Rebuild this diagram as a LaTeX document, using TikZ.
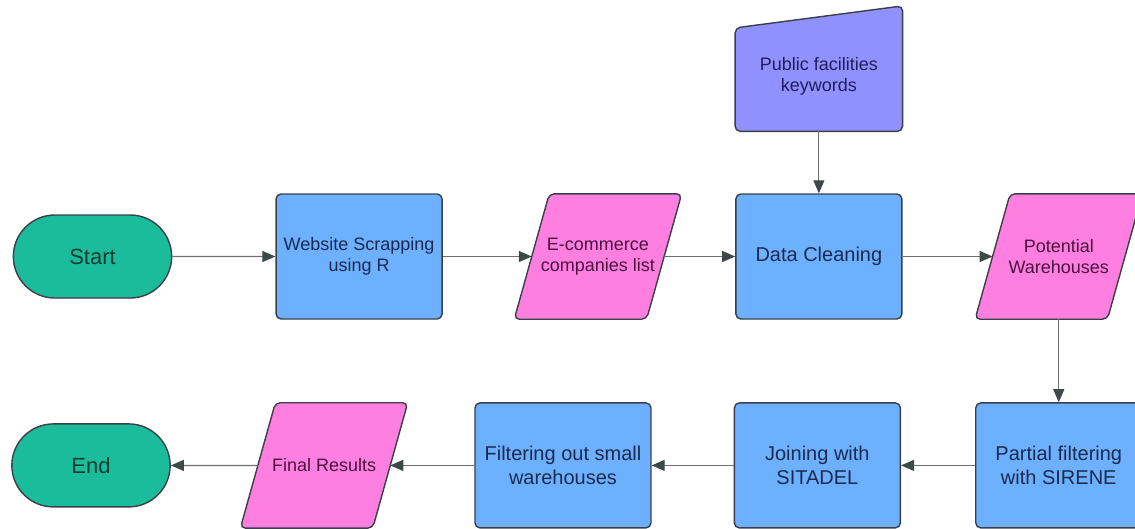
\documentclass[tikz,border=0pt]{standalone}
\usepackage{fontspec}
\setmainfont{Liberation Sans}
\usetikzlibrary{
    arrows.meta,
    positioning,
    shapes.misc,
    calc,
    backgrounds
}
\definecolor{boxblue}{HTML}{6CB0FF}
\definecolor{termteal}{HTML}{1BBC9B}
\definecolor{parapink}{HTML}{FF7FE0}
\definecolor{pubpurple}{HTML}{9190FF}
\definecolor{edgegray}{HTML}{3A3F48}
\definecolor{linegray}{HTML}{707070}
\definecolor{headgray}{HTML}{3E4848}
\definecolor{bluetext}{HTML}{1B2A4E}
\definecolor{pinktext}{HTML}{4A1040}
\definecolor{tealtext}{HTML}{0F3D33}
\definecolor{purpletext}{HTML}{1E1E5A}

\begin{document}
\begin{tikzpicture}[
    smallfont/.style={font=\fontsize{18pt}{21pt}\selectfont},
    bigfont/.style={font=\fontsize{20pt}{24pt}\selectfont},
    box/.style={rectangle, draw=edgegray, line width=1.4pt, rounded corners=5pt, fill=boxblue, text=bluetext, align=center, minimum height=125pt, minimum width=166pt, inner sep=2pt},
    term/.style={rounded rectangle, draw=edgegray, line width=1.4pt, fill=termteal, text=tealtext, minimum height=83pt, minimum width=165pt, font=\fontsize{22pt}{26pt}\selectfont},
    para/.style={rectangle, text=pinktext, align=center, minimum height=125pt, minimum width=132pt, inner sep=0pt, smallfont},
    paraline/.style={draw=edgegray, line width=1.4pt, rounded corners=5pt, fill=parapink},
    pub/.style={rectangle, text=purpletext, align=center, minimum height=110pt, minimum width=167pt, smallfont},
    arrow/.style={draw=linegray, line width=1.2pt, -{Triangle[length=13pt, width=11pt, color=headgray]}}
]
\useasboundingbox (0pt,0pt) rectangle (1135pt,-528pt);

% top row
\node[term] (start) at (92.5pt,-256.5pt) {Start};
\node[box, smallfont, right=103pt of start] (web) {Website Scrapping\\using R};
\node[para, right=89pt of web] (ecom) {E-commerce\\companies list};
\node[box, bigfont, right=71pt of ecom] (clean) {Data Cleaning};
\node[para, right=90pt of clean] (pot) {Potential\\Warehouses};
\node[pub, above=62pt of clean] (pub) {Public facilities\\keywords};

% bottom row
\node[box, bigfont, below=83pt of pot] (part) {Partial filtering\\with SIRENE};
\node[box, bigfont, left=74pt of part] (join) {Joining with\\SITADEL};
\node[box, bigfont, minimum width=176pt, left=82pt of join] (filt) {Filtering out small\\warehouses};
\node[para, left=84pt of filt] (final) {Final Results};
\node[term, left=87pt of final] (end) {End};

% shapes behind the text
\begin{scope}[on background layer]
\foreach \n in {ecom, pot, final}
    \draw[paraline] ($(\n.south west)+(-17.5pt,0)$) -- ($(\n.north west)+(17.5pt,0)$)
        -- ($(\n.north east)+(17.5pt,0)$) -- ($(\n.south east)+(-17.5pt,0)$) -- cycle;
\draw[paraline, fill=pubpurple] (pub.south west) -- ($(pub.north west)+(0,-7pt)$)
    -- ($(pub.north east)+(0,15pt)$) -- (pub.south east) -- cycle;
\end{scope}

\draw[arrow] (start) -- (web);
\draw[arrow] (web) -- (ecom);
\draw[arrow] (ecom) -- (clean);
\draw[arrow] (clean) -- (pot);
\draw[arrow] (pub) -- (clean);
\draw[arrow] (pot) -- (part);
\draw[arrow] (part) -- (join);
\draw[arrow] (join) -- (filt);
\draw[arrow] (filt) -- (final);
\draw[arrow] (final) -- (end);
\end{tikzpicture}
\end{document}
